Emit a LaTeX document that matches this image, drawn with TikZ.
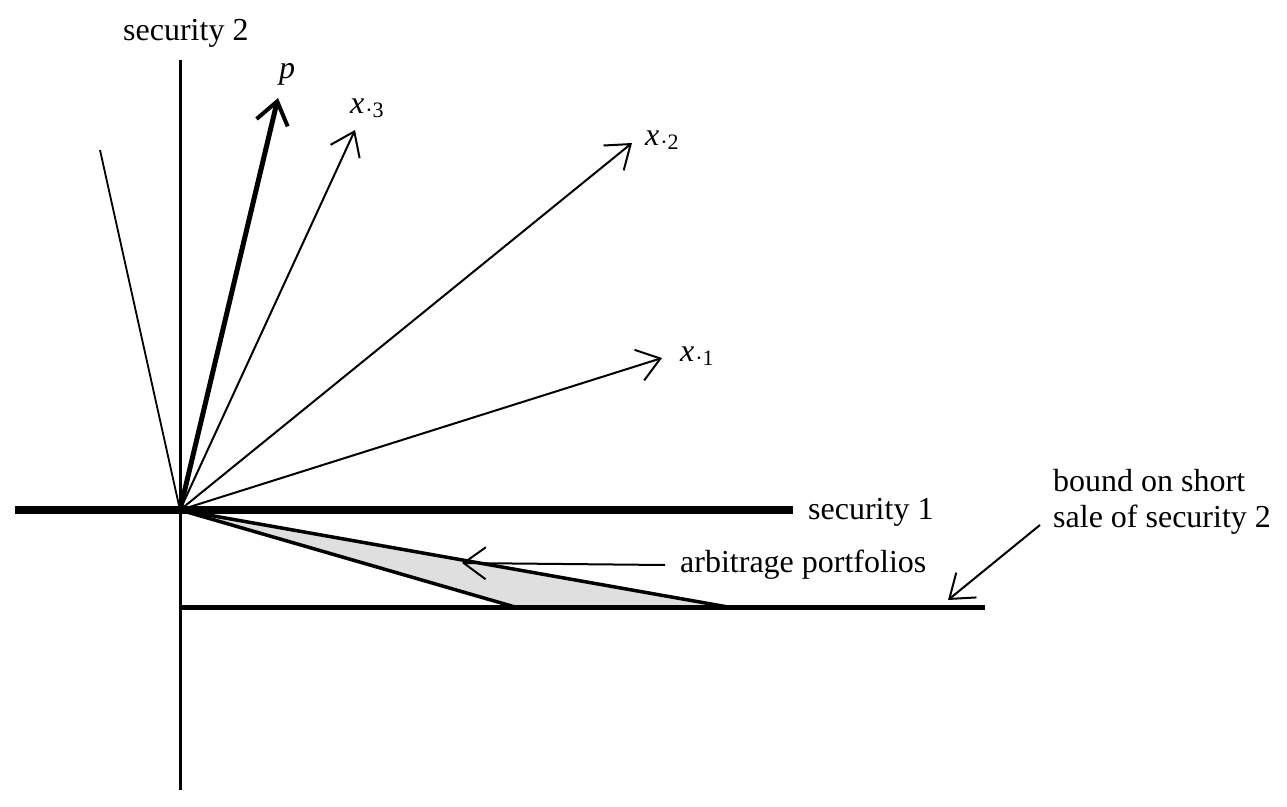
\documentclass[tikz,border=0pt]{standalone}
\usepackage{fontspec}
\setmainfont{Liberation Serif}
\usetikzlibrary{arrows.meta}
\newcommand{\vsub}[1]{{\itshape x}\kern1pt\raisebox{-4pt}{\fontsize{22}{22}\selectfont ·#1}}
\begin{document}
\begin{tikzpicture}[x=1pt,y=-1pt,
  lbl/.style={font=\fontsize{32}{36}\selectfont, inner sep=0pt},
  vec/.style={line width=2pt, -{Straight Barb[length=22pt,width=32pt,line width=2pt]}},
  thickvec/.style={line width=5pt, -{Straight Barb[length=22pt,width=32pt,line width=4pt]}},
  axis/.style={line width=4pt}]
\useasboundingbox (0,0) rectangle (1287,806);
\coordinate (O) at (180,510);
\coordinate (ytop) at (180,60);
\coordinate (ybot) at (180,790);
\coordinate (xl) at (15,510);
\coordinate (xr) at (793,510);
\coordinate (bl) at (180,607);
\coordinate (br) at (985,607);
\coordinate (t1) at (515,607);
\coordinate (t2) at (728,607);
\coordinate (ul) at (100,150);
\coordinate (pe) at (278,98);
\coordinate (x3e) at (355,130);
\coordinate (x2e) at (632,143);
\coordinate (x1e) at (662,358);
% shaded region
\fill[gray!25] (O) -- (t1) -- (t2) -- cycle;
\draw[line width=3.5pt] (O) -- (t1);
\draw[line width=3.5pt] (O) -- (t2);
% axes
\draw[line width=3pt] (ytop) -- (ybot);
\draw[line width=8pt] (xl) -- (xr);
\draw[line width=5pt] (bl) -- (br);
% lines
\draw[line width=1.8pt] (O) -- (ul);
\draw[thickvec] (O) -- (pe);
\draw[vec] (O) -- (x3e);
\draw[vec] (O) -- (x2e);
\draw[vec] (O) -- (x1e);
% labels
\node[lbl, anchor=base west] (s2) at (123,40) {security 2};
\node[lbl, anchor=base west] (s1) at (808,519) {security 1};
\node[lbl, anchor=base west] (pl) at (279,78) {\itshape p};
\node[lbl, anchor=base west] (x3l) at (350,113) {\vsub{3}};
\node[lbl, anchor=base west] (x2l) at (645,145) {\vsub{2}};
\node[lbl, anchor=base west] (x1l) at (680,361) {\vsub{1}};
\node[lbl, anchor=base west] (arb) at (680,572) {arbitrage portfolios};
\node[lbl, anchor=base west, align=left] (bnd) at (1053,527) {bound on short\\sale of security 2};
\coordinate (arbs) at (665,565);
\coordinate (arbe) at (462,563);
\draw[vec] (arbs) -- (arbe);
\coordinate (bs) at (1040,525);
\coordinate (be) at (948,600);
\draw[vec] (bs) -- (be);
\end{tikzpicture}
\end{document}
